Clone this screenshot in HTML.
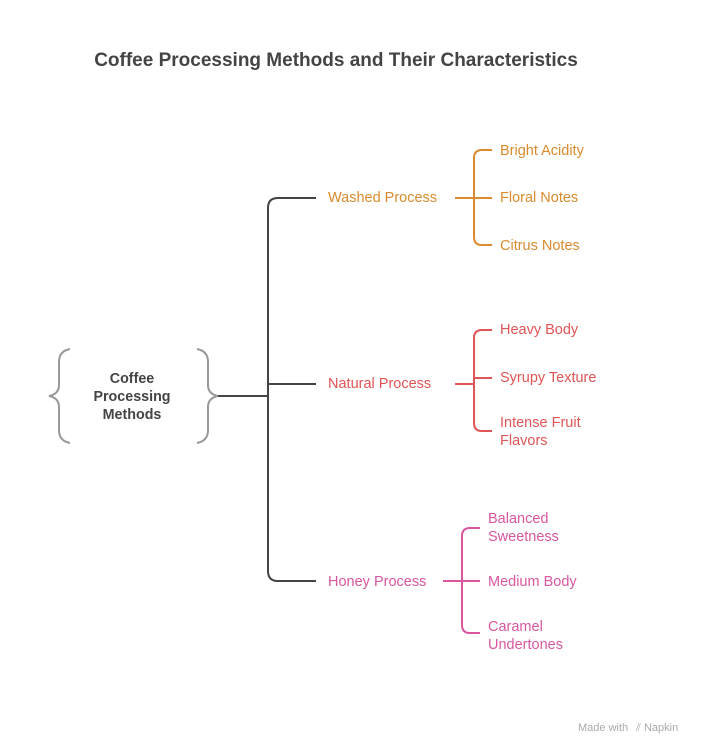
<!DOCTYPE html>
<html><head><meta charset="utf-8"><style>
body{margin:0;background:#fff;}
svg{display:block;font-family:"Liberation Sans",sans-serif;}
</style></head><body>
<svg width="710" height="755" viewBox="0 0 710 755">
<rect width="710" height="755" fill="#fff"/>
<text x="336" y="66" text-anchor="middle" font-size="19" font-weight="bold" fill="#444">Coffee Processing Methods and Their Characteristics</text>
<g fill="none" stroke="#999" stroke-width="2">
<path d="M70 349 Q59 351 59 362 L59 385 Q59 394 49 396 Q59 398 59 407 L59 430 Q59 441 70 443"/>
<path d="M197 349 Q208 351 208 362 L208 385 Q208 394 218 396 Q208 398 208 407 L208 430 Q208 441 197 443"/>
</g>
<text font-size="14.3" font-weight="bold" fill="#444" text-anchor="middle"><tspan x="132" y="383">Coffee</tspan><tspan x="132" y="401">Processing</tspan><tspan x="132" y="419">Methods</tspan></text>
<g fill="none" stroke="#444" stroke-width="2">
<path d="M218 396 H268"/>
<path d="M316 198 H278 Q268 198 268 208 V571 Q268 581 278 581 H316"/>
<path d="M268 384 H316"/>
</g>
<g font-size="14.5">
<text x="328" y="202" fill="#d98b2e">Washed Process</text>
<text x="328" y="388" fill="#e05555">Natural Process</text>
<text x="328" y="586" fill="#d9579f">Honey Process</text>
</g>
<g fill="none" stroke="#d98b2e" stroke-width="2">
<path d="M455 198 H492"/>
<path d="M492 150 H482 Q474 150 474 158 V237 Q474 245 482 245 H492"/>
</g>
<g font-size="14.5" fill="#d98b2e">
<text x="500" y="155">Bright Acidity</text>
<text x="500" y="202">Floral Notes</text>
<text x="500" y="250">Citrus Notes</text>
</g>
<g fill="none" stroke="#e05555" stroke-width="2">
<path d="M455 384 H474"/>
<path d="M474 378 H492"/>
<path d="M492 330 H482 Q474 330 474 338 V423 Q474 431 482 431 H492"/>
</g>
<g font-size="14.5" fill="#e05555">
<text x="500" y="334">Heavy Body</text>
<text x="500" y="382">Syrupy Texture</text>
<text x="500" y="427">Intense Fruit</text>
<text x="500" y="445">Flavors</text>
</g>
<g fill="none" stroke="#d9579f" stroke-width="2">
<path d="M443 581 H480"/>
<path d="M480 528 H470 Q462 528 462 536 V625 Q462 633 470 633 H480"/>
</g>
<g font-size="14.5" fill="#d9579f">
<text x="488" y="523">Balanced</text>
<text x="488" y="541">Sweetness</text>
<text x="488" y="586">Medium Body</text>
<text x="488" y="631">Caramel</text>
<text x="488" y="649">Undertones</text>
</g>
<text x="578" y="731" font-size="11" fill="#aaa">Made with</text>
<text x="636" y="731" font-size="11" fill="#aaa">⫽ Napkin</text>
</svg>
</body></html>
